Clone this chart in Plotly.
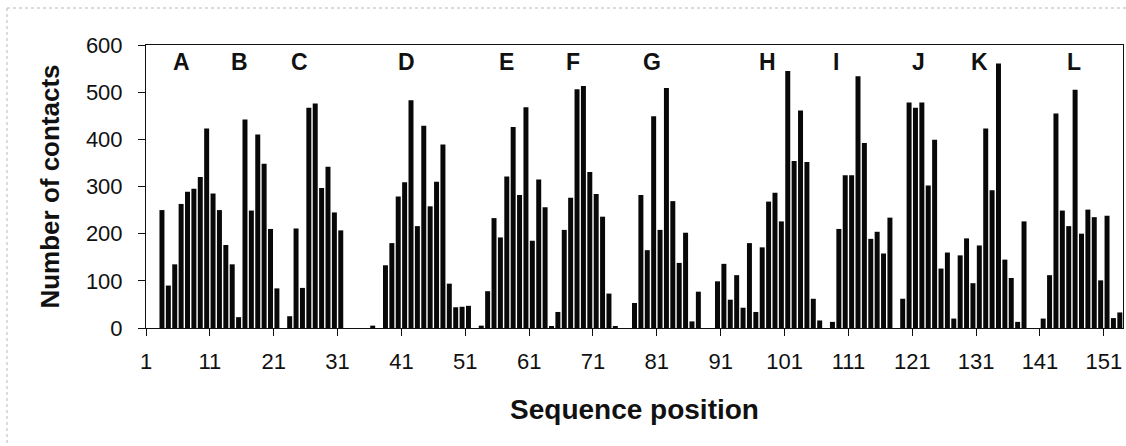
import plotly.graph_objects as go

# Sequence positions 1..153 and number of contacts per position
positions = list(range(1, 154))
contacts = [
    0, 0, 250, 90, 135, 263, 289, 295, 320, 423,      # 1-10
    285, 250, 176, 135, 23, 442, 249, 410, 348, 210,  # 11-20
    84, 0, 25, 211, 85, 467, 476, 297, 342, 245,      # 21-30
    207, 0, 0, 0, 0, 5, 0, 133, 180, 279,             # 31-40
    309, 483, 216, 429, 258, 310, 389, 94, 44, 45,    # 41-50
    47, 0, 5, 78, 233, 192, 321, 426, 282, 468,       # 51-60
    185, 315, 256, 4, 34, 208, 276, 506, 513, 331,    # 61-70
    284, 236, 73, 4, 0, 0, 53, 282, 165, 449,         # 71-80
    208, 509, 269, 138, 202, 14, 77, 0, 0, 99,        # 81-90
    136, 60, 112, 43, 180, 34, 171, 268, 287, 226,    # 91-100
    545, 354, 461, 352, 62, 16, 0, 13, 210, 324,      # 101-110
    324, 534, 392, 189, 204, 158, 234, 0, 62, 478,    # 111-120
    467, 478, 302, 399, 126, 160, 20, 154, 190, 95,   # 121-130
    175, 423, 292, 561, 145, 106, 13, 226, 0, 0,      # 131-140
    20, 112, 455, 249, 216, 505, 200, 251, 235, 101,  # 141-150
    238, 21, 33,                                      # 151-153
]

# x tick labels (sequence positions)
x_tick_labels = ["1", "11", "21", "31", "41", "51", "61", "71",
                 "81", "91", "101", "111", "121", "131", "141", "151"]
y_tick_values = [0, 100, 200, 300, 400, 500, 600]

# Helix labels and their approximate centre positions
helix_labels = ["A", "B", "C", "D", "E", "F", "G", "H", "I", "J", "K", "L"]
helix_centres = [6.0, 15.1, 24.5, 41.3, 57.0, 67.4, 79.7, 97.9, 108.5, 121.5, 131.1, 145.9]
helix_label_level = 563

FONT = "Liberation Sans, Arial, sans-serif"

fig = go.Figure()
fig.add_trace(go.Bar(
    x=positions,
    y=contacts,
    marker=dict(color="#080808", line=dict(width=0)),
    showlegend=False,
))

for lab, xc in zip(helix_labels, helix_centres):
    fig.add_annotation(
        x=xc, y=helix_label_level, xref="x", yref="y",
        text=f"<b>{lab}</b>", showarrow=False,
        font=dict(family=FONT, size=23, color="#111"),
    )

W, H = 1126, 446
ml, mr, mt, mb = 146, 3, 45, 118

def px_x(p):
    return (p - ml) / (W - ml - mr)

def px_y(p):
    return 1 - (p - mt) / (H - mt - mb)

# faint outer frame of the scanned figure
fig.add_shape(type="line", xref="paper", yref="paper",
              x0=px_x(7), x1=px_x(1126), y0=px_y(8), y1=px_y(8),
              line=dict(color="#b8b8b8", width=1, dash="dot"))
fig.add_shape(type="line", xref="paper", yref="paper",
              x0=px_x(7), x1=px_x(7), y0=px_y(8), y1=px_y(446),
              line=dict(color="#b8b8b8", width=1, dash="dot"))

fig.update_layout(
    width=W, height=H,
    margin=dict(l=ml, r=mr, t=mt, b=mb, pad=0),
    paper_bgcolor="white", plot_bgcolor="white",
    bargap=0.22,
    font=dict(family=FONT, color="#111"),
    xaxis=dict(
        range=[0.5, 153.5],
        tickmode="array",
        tickvals=[int(t) - 0.5 for t in x_tick_labels],
        ticktext=x_tick_labels,
        ticks="outside", ticklen=7, tickwidth=1, tickcolor="#111",
        showline=True, linecolor="#111", linewidth=1, mirror=True,
        showgrid=False, zeroline=False,
        tickfont=dict(family=FONT, size=22, color="#111"),
        ticklabelstandoff=7,
        automargin=False,
        title=dict(text="<b>Sequence position</b>",
                   font=dict(family=FONT, size=28, color="#111"),
                   standoff=25),
    ),
    yaxis=dict(
        range=[0, 600],
        tickmode="array",
        tickvals=y_tick_values,
        ticks="outside", ticklen=7, tickwidth=1, tickcolor="#111",
        showline=True, linecolor="#111", linewidth=1, mirror=True,
        showgrid=False, zeroline=False,
        tickfont=dict(family=FONT, size=22, color="#111"),
        ticklabelstandoff=11,
        automargin=False,
        title=dict(text="<b>Number of contacts</b>",
                   font=dict(family=FONT, size=26, color="#111"),
                   standoff=18),
    ),
)

fig.write_html(
    "out.html",
    config={"displayModeBar": False},
    post_script="document.body.style.margin='0';document.body.style.overflow='hidden';",
)
